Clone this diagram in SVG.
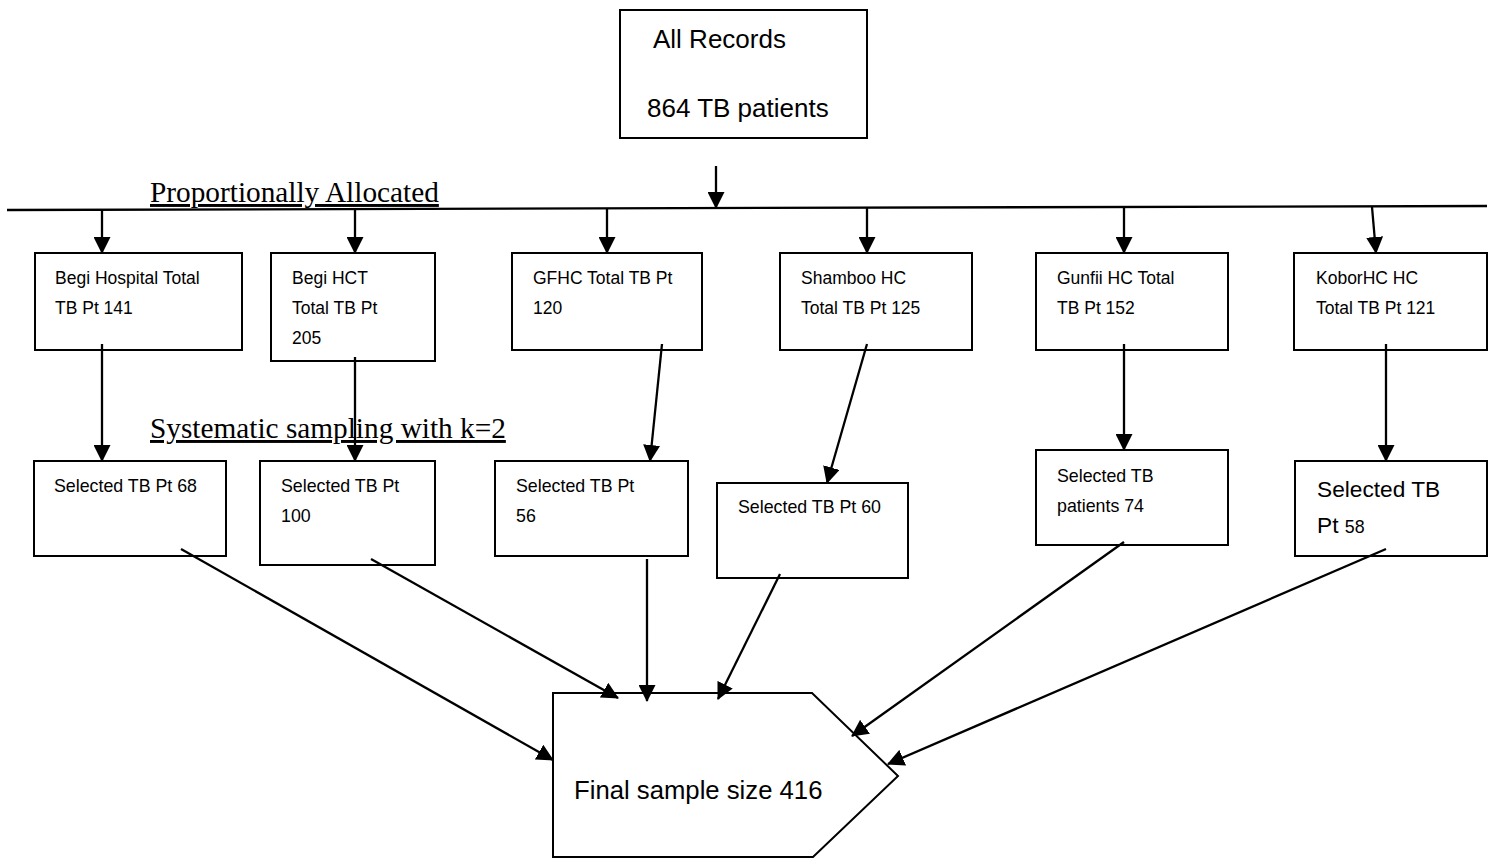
<svg xmlns="http://www.w3.org/2000/svg" width="1495" height="858" viewBox="0 0 1495 858">
<style>
  .box { fill: #fff; stroke: #000; stroke-width: 2; }
  .t { font-family: "Liberation Sans", Arial, sans-serif; fill: #000; }
  .r1 { font-size: 17.5px; }
  .r2 { font-size: 17.8px; }
  .ser { font-family: "Liberation Serif", "Times New Roman", serif; font-size: 29.3px; text-decoration: underline; }
  .c line { stroke: #000; stroke-width: 2.3; marker-end: url(#ah); }
</style>
<defs>
  <marker id="ah" viewBox="0 0 17 17" markerUnits="userSpaceOnUse" markerWidth="17" markerHeight="17" refX="16" refY="8.5" orient="auto">
    <path d="M0,0 L17,8.5 L0,17 z" fill="#000"/>
  </marker>
</defs>
<rect width="1495" height="858" fill="#fff"/>

<g id="all-records">
  <rect class="box" x="620" y="10" width="247" height="128"/>
  <text class="t" x="653" y="48" font-size="26">All Records</text>
  <text class="t" x="647" y="117" font-size="26">864 TB patients</text>
</g>

<g id="labels">
  <text class="ser" x="150" y="202">Proportionally Allocated</text>
  <text class="ser" x="150" y="438">Systematic sampling with k=2</text>
</g>

<g id="bus">
  <line x1="7" y1="210" x2="1487" y2="206" stroke="#000" stroke-width="2.3"/>
</g>

<g id="begi-hospital">
  <rect class="box" x="35" y="253" width="207" height="97"/>
  <text class="t r1" x="55" y="284">Begi Hospital Total</text>
  <text class="t r1" x="55" y="314">TB Pt 141</text>
</g>
<g id="begi-hct">
  <rect class="box" x="271" y="253" width="164" height="108"/>
  <text class="t r1" x="292" y="284">Begi HCT</text>
  <text class="t r1" x="292" y="314">Total TB Pt</text>
  <text class="t r1" x="292" y="344">205</text>
</g>
<g id="gfhc">
  <rect class="box" x="512" y="253" width="190" height="97"/>
  <text class="t r1" x="533" y="284">GFHC Total TB Pt</text>
  <text class="t r1" x="533" y="314">120</text>
</g>
<g id="shamboo">
  <rect class="box" x="780" y="253" width="192" height="97"/>
  <text class="t r1" x="801" y="284">Shamboo HC</text>
  <text class="t r1" x="801" y="314">Total TB Pt 125</text>
</g>
<g id="gunfii">
  <rect class="box" x="1036" y="253" width="192" height="97"/>
  <text class="t r1" x="1057" y="284">Gunfii HC Total</text>
  <text class="t r1" x="1057" y="314">TB Pt 152</text>
</g>
<g id="kobor">
  <rect class="box" x="1294" y="253" width="193" height="97"/>
  <text class="t r1" x="1316" y="284">KoborHC HC</text>
  <text class="t r1" x="1316" y="314">Total TB Pt 121</text>
</g>

<g id="sel-begi-hospital">
  <rect class="box" x="34" y="461" width="192" height="95"/>
  <text class="t r2" x="54" y="492">Selected TB Pt 68</text>
</g>
<g id="sel-begi-hct">
  <rect class="box" x="260" y="461" width="175" height="104"/>
  <text class="t r2" x="281" y="492">Selected TB Pt</text>
  <text class="t r2" x="281" y="522">100</text>
</g>
<g id="sel-gfhc">
  <rect class="box" x="495" y="461" width="193" height="95"/>
  <text class="t r2" x="516" y="492">Selected TB Pt</text>
  <text class="t r2" x="516" y="522">56</text>
</g>
<g id="sel-shamboo">
  <rect class="box" x="717" y="483" width="191" height="95"/>
  <text class="t r2" x="738" y="513">Selected TB Pt 60</text>
</g>
<g id="sel-gunfii">
  <rect class="box" x="1036" y="450" width="192" height="95"/>
  <text class="t r2" x="1057" y="482">Selected TB</text>
  <text class="t r2" x="1057" y="512">patients 74</text>
</g>
<g id="sel-kobor">
  <rect class="box" x="1295" y="461" width="192" height="95"/>
  <text class="t" x="1317" y="497" font-size="22.7">Selected TB</text>
  <text class="t" x="1317" y="533" font-size="22.7">Pt <tspan font-size="17.8">58</tspan></text>
</g>

<g id="final">
  <polygon class="box" points="553,693 812,693 898,776 813,857 553,857"/>
  <text class="t" x="574" y="799" font-size="25.7">Final sample size 416</text>
</g>

<g id="connectors" class="c">
  <line x1="716" y1="166" x2="716" y2="208"/>
  <line x1="102" y1="210" x2="102" y2="253"/>
  <line x1="355" y1="209" x2="355" y2="253"/>
  <line x1="607" y1="208" x2="607" y2="253"/>
  <line x1="867" y1="208" x2="867" y2="253"/>
  <line x1="1124" y1="207" x2="1124" y2="253"/>
  <line x1="1372" y1="207" x2="1376" y2="253"/>

  <line x1="102" y1="344" x2="102" y2="461"/>
  <line x1="355" y1="357" x2="355" y2="461"/>
  <line x1="662" y1="344" x2="650" y2="461"/>
  <line x1="867" y1="344" x2="827" y2="483"/>
  <line x1="1124" y1="344" x2="1124" y2="450"/>
  <line x1="1386" y1="344" x2="1386" y2="461"/>

  <line x1="181" y1="549" x2="553" y2="760"/>
  <line x1="371" y1="559" x2="618" y2="698"/>
  <line x1="647" y1="559" x2="647" y2="701"/>
  <line x1="780" y1="574" x2="718" y2="699"/>
  <line x1="1124" y1="542" x2="852" y2="736"/>
  <line x1="1386" y1="549" x2="888" y2="764"/>
</g>
</svg>
